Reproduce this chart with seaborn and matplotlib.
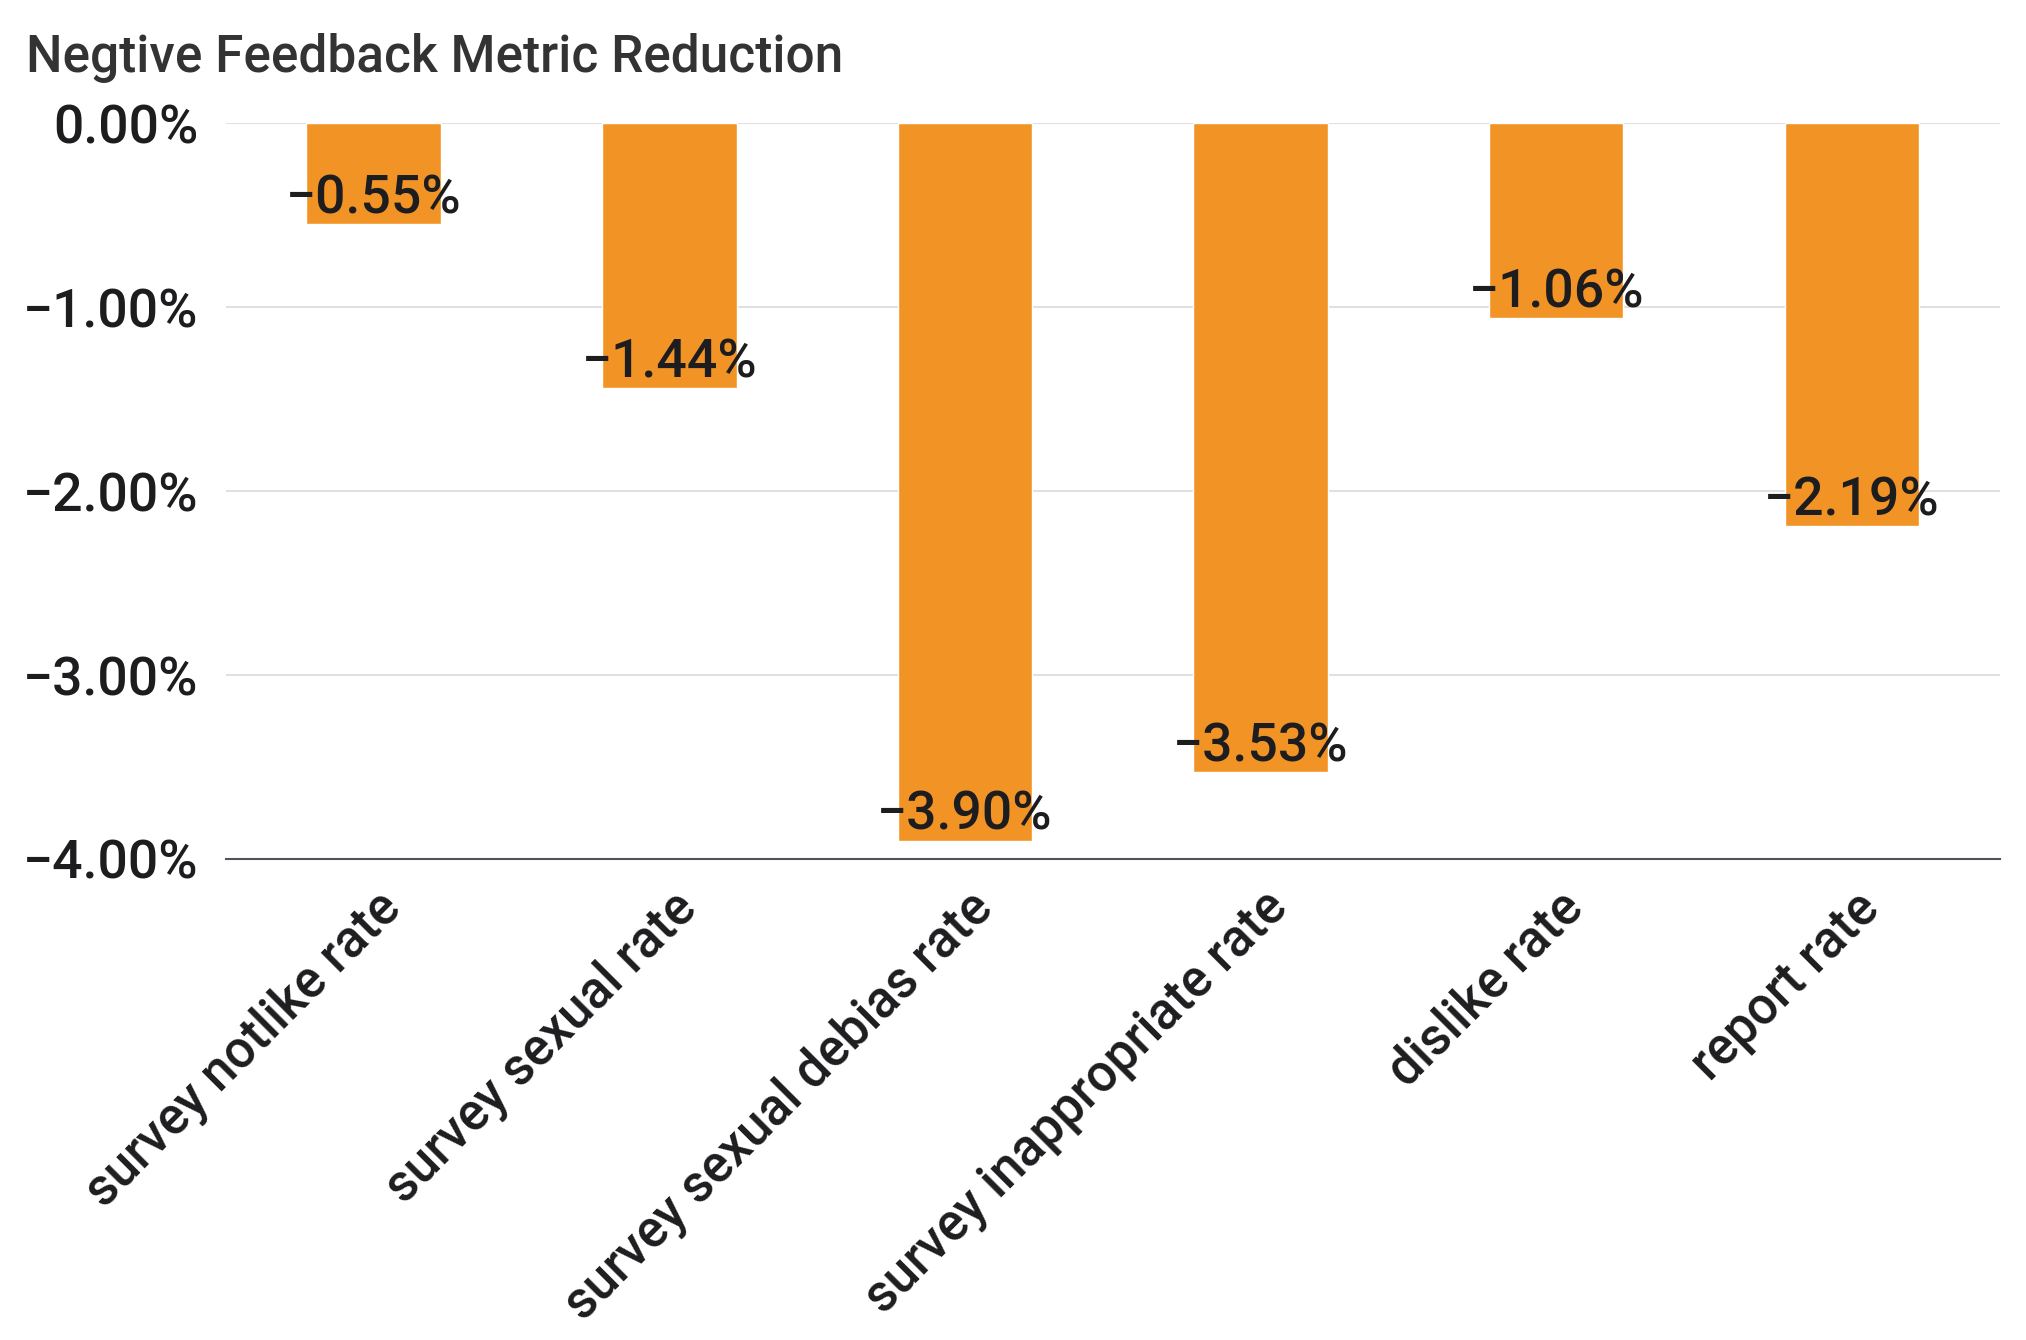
import numpy as np
import pandas as pd
import matplotlib
matplotlib.use("Agg")
import matplotlib.pyplot as plt
import matplotlib.transforms as mtransforms
from matplotlib.ticker import FuncFormatter
import seaborn as sns

# Data
categories = ["survey notlike rate", "survey sexual rate", "survey sexual debias rate",
              "survey inappropriate rate", "dislike rate", "report rate"]
values = [-0.55, -1.44, -3.90, -3.53, -1.06, -2.19]
yticks = [0.0, -1.0, -2.0, -3.0, -4.0]

df = pd.DataFrame({"metric": categories, "change": values})

sns.set_theme(style="white")
plt.rcParams["font.family"] = ["Roboto", "DejaVu Sans"]
plt.rcParams["font.weight"] = "medium"

fig = plt.figure(figsize=(20.26, 13.4), dpi=100)
ax = fig.add_axes([0.1115, 0.359, 0.8755, 0.549])

sns.barplot(data=df, x="metric", y="change", color="#F29326", saturation=1,
            width=0.455, ax=ax)

def pct(v, pos=None):
    return f"{v:.2f}%".replace("-", "\u2212")

ax.set_ylim(-4.0, 0.0)
ax.set_xlim(-0.5, len(categories) - 0.5)
ax.set_yticks(yticks)
ax.yaxis.set_major_formatter(FuncFormatter(pct))
ax.set_xlabel("")
ax.set_ylabel("")

# grid lines
for t in yticks[:-1]:
    ax.axhline(t, color="#e0e0e2", lw=1.5, zorder=0)
for s in ["top", "right", "left"]:
    ax.spines[s].set_visible(False)
ax.spines["bottom"].set_color("#50535a")
ax.spines["bottom"].set_linewidth(1.5)

ax.tick_params(axis="y", length=0, pad=20, labelsize=38.5, labelcolor="#1d1d1f")
ax.tick_params(axis="x", length=0, pad=30, labelsize=37, labelcolor="#1d1d1f")

offset = mtransforms.ScaledTranslation(14 / 72, 0, fig.dpi_scale_trans)
for lab in ax.get_xticklabels():
    lab.set_rotation(45)
    lab.set_ha("right")
    lab.set_va("center")
    lab.set_rotation_mode("anchor")
    lab.set_transform(lab.get_transform() + offset)

# value labels
for i, v in enumerate(values):
    ax.text(i, v, pct(v), ha="center", va="bottom", fontsize=38.5, color="#1d1d1f")

fig.text(0.0128, 0.957, "Negtive Feedback Metric Reduction", ha="left", va="center",
         fontsize=37, color="#333333")

fig.savefig("out.png", dpi=100, facecolor="white")
